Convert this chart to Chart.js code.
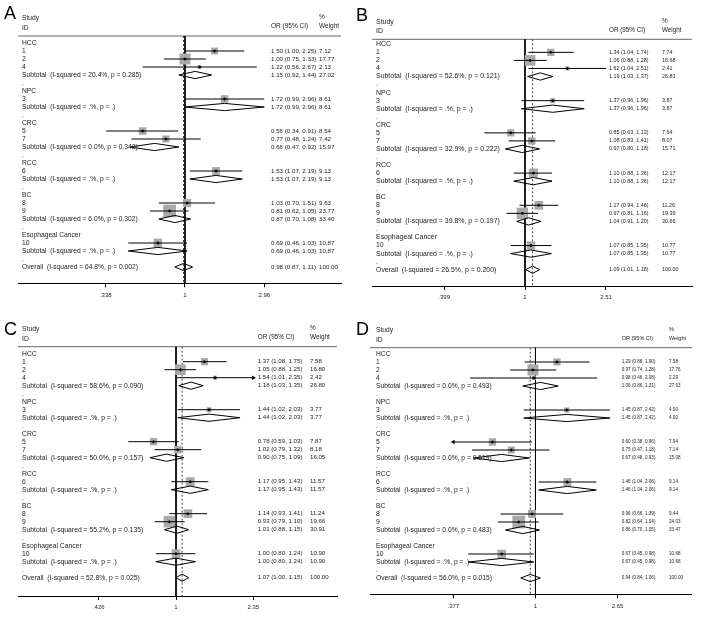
<!DOCTYPE html>
<html>
<head>
<meta charset="utf-8">
<script src="https://cdn.jsdelivr.net/npm/chart.js@4.4.1/dist/chart.umd.min.js"></script>
<style>
  html, body { margin: 0; padding: 0; background: #fff; }
  #wrap { position: relative; width: 701px; height: 627px; overflow: hidden; }
  canvas { position: absolute; }
  .letter { position: absolute; font-family: 'Liberation Sans', Arial, sans-serif; font-size: 18px; color: #000; line-height: 1; }
</style>
</head>
<body>
<div id="wrap">
  <canvas id="cA" width="350" height="313" style="left:0;top:0"></canvas>
  <canvas id="cB" width="351" height="313" style="left:350px;top:0"></canvas>
  <canvas id="cC" width="350" height="314" style="left:0;top:313px"></canvas>
  <canvas id="cD" width="351" height="314" style="left:350px;top:313px"></canvas>
  <div class="letter" style="left:4px;top:4px">A</div>
  <div class="letter" style="left:356px;top:6px">B</div>
  <div class="letter" style="left:4px;top:320px">C</div>
  <div class="letter" style="left:356px;top:320px">D</div>
</div>
<script>
// Subgroups and study ids (same layout in all four panels)
const groups = ['HCC', 'NPC', 'CRC', 'RCC', 'BC', 'Esophageal Cancer'];
const groupStudies = [['1', '2', '4'], ['3'], ['5', '7'], ['6'], ['8', '9'], ['10']];

// Panel A
const orA = [1.50, 1.00, 1.22, 1.72, 0.56, 0.77, 1.53, 1.03, 0.81, 0.69];
const loA = [1.00, 0.75, 0.56, 0.99, 0.34, 0.48, 1.07, 0.70, 0.62, 0.46];
const hiA = [2.25, 1.33, 2.67, 2.96, 0.91, 1.24, 2.19, 1.51, 1.05, 1.03];
const wA = [7.12, 17.77, 2.13, 8.61, 8.54, 7.42, 9.13, 9.63, 23.77, 10.87];
const subOrA = [1.15, 1.72, 0.66, 1.53, 0.87, 0.69];
const subLoA = [0.92, 0.99, 0.47, 1.07, 0.70, 0.46];
const subHiA = [1.44, 2.96, 0.92, 2.19, 1.08, 1.03];
const subWA = [27.02, 8.61, 15.97, 9.13, 33.40, 10.87];
const hetA = ['20.4%, p = 0.285', '.%, p = .', '0.0%, p = 0.348', '.%, p = .', '6.0%, p = 0.302', '.%, p = .'];
const allA = [0.98, 0.87, 1.11];
const allHetA = '64.8%, p = 0.002';
const ticksA = [0.338, 1, 2.96];
const tickLabelsA = ['.338', '1', '2.96'];

// Panel B
const orB = [1.34, 1.06, 1.62, 1.37, 0.85, 1.08, 1.10, 1.17, 0.97, 1.07];
const loB = [1.04, 0.88, 1.04, 0.96, 0.63, 0.83, 0.88, 0.94, 0.81, 0.85];
const hiB = [1.74, 1.28, 2.51, 1.96, 1.13, 1.41, 1.36, 1.46, 1.16, 1.35];
const wB = [7.74, 16.68, 2.41, 3.87, 7.64, 8.07, 12.17, 11.26, 19.39, 10.77];
const subOrB = [1.19, 1.37, 0.97, 1.10, 1.04, 1.07];
const subLoB = [1.03, 0.96, 0.80, 0.88, 0.91, 0.85];
const subHiB = [1.37, 1.96, 1.18, 1.36, 1.20, 1.35];
const subWB = [26.83, 3.87, 15.71, 12.17, 30.66, 10.77];
const hetB = ['52.6%, p = 0.121', '.%, p = .', '32.9%, p = 0.222', '.%, p = .', '39.8%, p = 0.197', '.%, p = .'];
const allB = [1.09, 1.01, 1.18];
const allHetB = '26.5%, p = 0.200';
const ticksB = [0.399, 1, 2.51];
const tickLabelsB = ['.399', '1', '2.51'];

// Panel C
const orC = [1.37, 1.05, 1.54, 1.44, 0.78, 1.02, 1.17, 1.14, 0.93, 1.00];
const loC = [1.08, 0.88, 1.01, 1.02, 0.59, 0.79, 0.95, 0.93, 0.79, 0.80];
const hiC = [1.75, 1.25, 2.354, 2.03, 1.03, 1.32, 1.43, 1.41, 1.10, 1.24];
const wC = [7.58, 16.80, 2.42, 3.77, 7.87, 8.18, 11.57, 11.24, 19.66, 10.90];
const subOrC = [1.18, 1.44, 0.90, 1.17, 1.01, 1.00];
const subLoC = [1.03, 1.02, 0.75, 0.95, 0.88, 0.80];
const subHiC = [1.35, 2.03, 1.09, 1.43, 1.15, 1.24];
const subWC = [26.80, 3.77, 16.05, 11.57, 30.91, 10.90];
const hetC = ['58.6%, p = 0.090', '.%, p = .', '50.0%, p = 0.157', '.%, p = .', '55.2%, p = 0.135', '.%, p = .'];
const allC = [1.07, 1.00, 1.15];
const allHetC = '52.8%, p = 0.025';
const ticksC = [0.426, 1, 2.35];
const tickLabelsC = ['.426', '1', '2.35'];

// Panel D
const orD = [1.29, 0.97, 0.98, 1.45, 0.60, 0.75, 1.46, 0.96, 0.82, 0.67];
const loD = [0.88, 0.74, 0.46, 0.87, 0.376, 0.47, 1.04, 0.66, 0.64, 0.45];
const hiD = [1.90, 1.28, 2.08, 2.42, 0.96, 1.18, 2.06, 1.39, 1.04, 0.98];
const wD = [7.58, 17.76, 2.29, 4.00, 7.94, 7.14, 9.14, 9.44, 24.03, 10.68];
const subOrD = [1.06, 1.45, 0.67, 1.46, 0.86, 0.67];
const subLoD = [0.86, 0.87, 0.48, 1.04, 0.70, 0.45];
const subHiD = [1.31, 2.42, 0.93, 2.06, 1.05, 0.98];
const subWD = [27.63, 4.00, 15.08, 9.14, 33.47, 10.68];
const hetD = ['0.0%, p = 0.493', '.%, p = .', '0.0%, p = 0.519', '.%, p = .', '0.0%, p = 0.483', '.%, p = .'];
const allD = [0.94, 0.84, 1.06];
const allHetD = '56.0%, p = 0.015';
const ticksD = [0.377, 1, 2.65];
const tickLabelsD = ['.377', '1', '2.65'];

const FONT = "'Liberation Sans', Arial, sans-serif";
const TXT = '#222';

function buildRows(d) {
    const rows = [];
    let k = 0;
    groups.forEach((g, gi) => {
        rows.push({ label: g });
        groupStudies[gi].forEach(id => {
            rows.push({ label: id, kind: 'study', or: d.or[k], lo: d.lo[k], hi: d.hi[k], w: d.w[k] });
            k++;
        });
        rows.push({ label: 'Subtotal  (I-squared = ' + d.het[gi] + ')', kind: 'pool',
            or: d.subOr[gi], lo: d.subLo[gi], hi: d.subHi[gi], w: d.subW[gi] });
        rows.push({ label: '.' });
    });
    rows.push({ label: 'Overall  (I-squared = ' + d.allHet + ')', kind: 'pool',
        or: d.all[0], lo: d.all[1], hi: d.all[2], w: 100 });
    return rows;
}

function makeChart(id, d, L) {
    const rows = buildRows(d);
    const ln = Math.log;
    const xMin = (L.axLeft - L.x1) / L.ppu, xMax = (L.axRight - L.x1) / L.ppu;
    const yMin = -(L.row0 - L.axTop) / L.sp, yMax = (L.axBottom - L.row0) / L.sp;
    const tMin = ln(d.ticks[0]), tMax = ln(d.ticks[d.ticks.length - 1]);

    const boxes = [], ci = [], dots = [], diam = [], arrR = [], arrL = [];
    rows.forEach((r, i) => {
        if (r.kind === 'study') {
            boxes.push({ x: ln(r.or), y: i });
            let a = ln(r.lo), b = ln(r.hi);
            if (a < tMin) { a = tMin; arrL.push({ x: a, y: i }); }
            if (b > tMax) { b = tMax; arrR.push({ x: b, y: i }); }
            ci.push({ x: a, y: i }, { x: b, y: i }, { x: null, y: null });
            dots.push({ x: ln(r.or), y: i });
        } else if (r.kind === 'pool') {
            const h = 0.45;
            diam.push({ x: ln(r.lo), y: i }, { x: ln(r.or), y: i - h }, { x: ln(r.hi), y: i },
                { x: ln(r.or), y: i + h }, { x: ln(r.lo), y: i }, { x: null, y: null });
        }
    });
    const boxR = rows.filter(r => r.kind === 'study').map(r => Math.sqrt(r.w) * 2.6 / Math.SQRT2);
    const lineDs = (data, extra) => Object.assign({ type: 'line', data, showLine: true, pointRadius: 0,
        borderColor: '#000', borderWidth: 1, spanGaps: false, clip: false, fill: false }, extra);

    const datasets = [
        lineDs([{ x: xMin, y: yMin }, { x: xMax, y: yMin }], { borderColor: '#666', order: 9 }),
        lineDs([{ x: 0, y: yMin }, { x: 0, y: yMax }], { order: 8 }),
        lineDs([{ x: ln(d.all[0]), y: yMin }, { x: ln(d.all[0]), y: yMax }], { borderColor: '#444', borderDash: [2, 2], order: 7 }),
        { type: 'scatter', data: boxes, pointStyle: 'rect', pointRadius: boxR, pointBackgroundColor: '#a9a9a9',
          pointBorderWidth: 0, clip: false, order: 6 },
        lineDs(ci, { order: 5 }),
        { type: 'scatter', data: dots, pointStyle: 'rectRot', pointRadius: 1.7, pointBackgroundColor: '#000',
          pointBorderWidth: 0, clip: false, order: 4 },
        { type: 'scatter', data: arrR, pointStyle: 'triangle', rotation: 90, pointRadius: 2.6, pointBackgroundColor: '#000',
          pointBorderWidth: 0, clip: false, order: 3 },
        { type: 'scatter', data: arrL, pointStyle: 'triangle', rotation: -90, pointRadius: 2.6, pointBackgroundColor: '#000',
          pointBorderWidth: 0, clip: false, order: 3 },
        lineDs(diam, { order: 2 })
    ];

    const textPlugin = {
        id: 'forestText' + id,
        afterDraw(chart) {
            const ctx = chart.ctx;
            const y = chart.scales.y;
            ctx.save();
            ctx.fillStyle = TXT;
            ctx.textBaseline = 'middle';
            ctx.textAlign = 'left';
            // header
            ctx.font = L.fontL + 'px ' + FONT;
            ctx.fillText('Study', L.labelX, L.axTop - 17.5);
            ctx.fillText('ID', L.labelX, L.axTop - 8);
            ctx.font = L.fontH + 'px ' + FONT;
            ctx.fillText('OR (95% CI)', L.orX, L.axTop - 9.5);
            ctx.fillText('%', L.wX, L.axTop - 18.5);
            ctx.fillText('Weight', L.wX, L.axTop - 9.5);
            rows.forEach((r, i) => {
                const py = y.getPixelForValue(i);
                ctx.font = L.fontL + 'px ' + FONT;
                ctx.fillText(r.label, L.labelX, py);
                if (r.kind) {
                    ctx.font = L.fontR + 'px ' + FONT;
                    ctx.fillText(r.or.toFixed(2) + ' (' + r.lo.toFixed(2) + ', ' + r.hi.toFixed(2) + ')', L.orX, py);
                    ctx.fillText(r.w.toFixed(2), L.wX, py);
                }
            });
            ctx.restore();
        }
    };

    const canvas = document.getElementById(id);
    return new Chart(canvas, {
        type: 'scatter',
        data: { datasets },
        options: {
            responsive: false,
            animation: false,
            devicePixelRatio: 1,
            layout: { padding: { left: L.axLeft, right: canvas.width - L.axRight, top: L.axTop,
                bottom: canvas.height - L.axBottom - 22 } },
            plugins: { legend: { display: false }, tooltip: { enabled: false } },
            scales: {
                x: {
                    type: 'linear', min: xMin, max: xMax,
                    afterBuildTicks: s => { s.ticks = d.ticks.map(v => ({ value: ln(v) })); },
                    afterFit: s => { s.height = 22; },
                    ticks: { autoSkip: false, maxRotation: 0, padding: 4, color: TXT,
                        font: { family: FONT, size: 6 },
                        callback: (v, i) => d.tickLabels[i] },
                    grid: { display: true, drawOnChartArea: false, drawTicks: true, tickLength: 4, color: '#000' },
                    border: { display: true, color: '#000', width: 1 }
                },
                y: { type: 'linear', reverse: true, min: yMin, max: yMax, display: false }
            }
        },
        plugins: [textPlugin]
    });
}

makeChart('cA', { or: orA, lo: loA, hi: hiA, w: wA, subOr: subOrA, subLo: subLoA, subHi: subHiA, subW: subWA,
    het: hetA, all: allA, allHet: allHetA, ticks: ticksA, tickLabels: tickLabelsA },
    { axTop: 36, axBottom: 283.3, axLeft: 18, axRight: 343, row0: 43, sp: 8.0, x1: 186, ppu: 73.5,
      labelX: 22, orX: 271, wX: 319, fontL: 6.7, fontR: 6.2, fontH: 6.5 });

makeChart('cB', { or: orB, lo: loB, hi: hiB, w: wB, subOr: subOrB, subLo: subLoB, subHi: subHiB, subW: subWB,
    het: hetB, all: allB, allHet: allHetB, ticks: ticksB, tickLabels: tickLabelsB },
    { axTop: 39.3, axBottom: 286, axLeft: 22, axRight: 342, row0: 44.3, sp: 8.05, x1: 175, ppu: 88,
      labelX: 26, orX: 259, wX: 312, fontL: 6.95, fontR: 5.4, fontH: 6.3 });

makeChart('cC', { or: orC, lo: loC, hi: hiC, w: wC, subOr: subOrC, subLo: subLoC, subHi: subHiC, subW: subWC,
    het: hetC, all: allC, allHet: allHetC, ticks: ticksC, tickLabels: tickLabelsC },
    { axTop: 33.7, axBottom: 283, axLeft: 18, axRight: 337, row0: 40.7, sp: 8.0, x1: 176, ppu: 90.5,
      labelX: 22, orX: 257.7, wX: 310, fontL: 6.8, fontR: 6.1, fontH: 6.4 });

makeChart('cD', { or: orD, lo: loD, hi: hiD, w: wD, subOr: subOrD, subLo: subLoD, subHi: subHiD, subW: subWD,
    het: hetD, all: allD, allHet: allHetD, ticks: ticksD, tickLabels: tickLabelsD },
    { axTop: 34.7, axBottom: 281.3, axLeft: 20, axRight: 343, row0: 41, sp: 8.0, x1: 186, ppu: 84.5,
      labelX: 26, orX: 271.7, wX: 319, fontL: 6.7, fontR: 4.6, fontH: 5.5 });
</script>
</body>
</html>
